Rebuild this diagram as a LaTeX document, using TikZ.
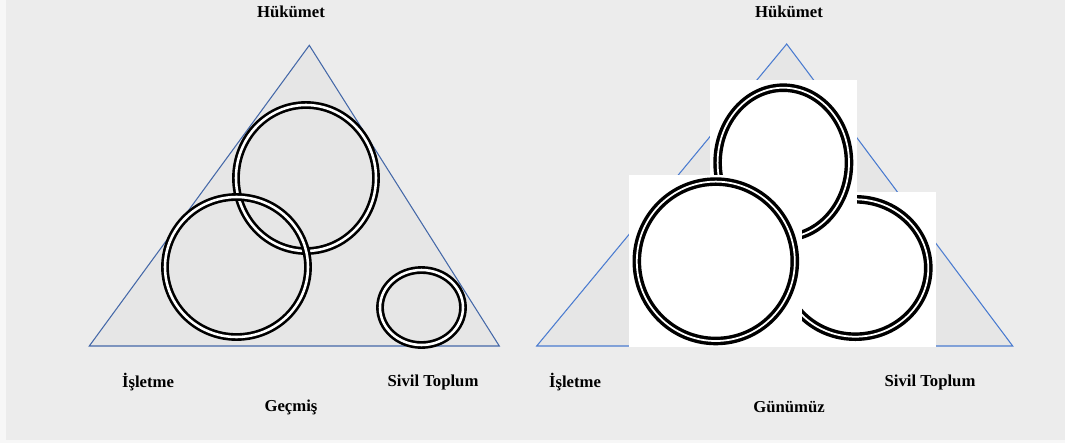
\documentclass[tikz,border=0pt]{standalone}
\usepackage{fontspec}
\setmainfont{Liberation Serif}
\usetikzlibrary{positioning}

\definecolor{bgrey}{HTML}{ECECEC}
\definecolor{tgrey}{HTML}{E6E6E6}
\definecolor{edgeold}{HTML}{4468A8}
\definecolor{edgenew}{HTML}{4A7BD0}

\tikzset{
    lbl/.style={font=\fontsize{9.5}{11}\selectfont\bfseries, inner sep=0pt},
    tri/.style={fill=tgrey, line width=0.6pt},
    ring/.style={draw=black, double=white, line width=1.5pt, double distance=1.45pt},
    thickring/.style={draw=black, double=white, line width=1.95pt, double distance=1pt},
    patch/.style={fill=white, draw=none}
}

\begin{document}
\begin{tikzpicture}[x=0.02cm, y=-0.02cm]
    \useasboundingbox (0,0) rectangle (1065,443);
    \fill[white!60!bgrey] (0,0) rectangle (1065,443);
    \fill[bgrey] (6,0) rectangle (1065,440);

    % past
    \draw[tri, draw=edgeold] (309.3,45.3) -- (499.3,346) -- (89.3,346) -- cycle;
    \draw[ring] (306,178) ellipse [x radius=70, y radius=73];
    \draw[ring] (236.5,267) ellipse [x radius=71.5, y radius=70];
    \draw[ring] (421.5,307.5) ellipse [x radius=41.5, y radius=37.5];

    \node[lbl] (govold) at (291,12) {Hükümet};
    \node[lbl] (busold) at (148,382) {İşletme};
    \node[lbl] (civold) at (433,382) {Sivil Toplum};
    \node[lbl] (pastlbl) at (291,407) {Geçmiş};

    % today
    \draw[tri, draw=edgenew] (786.7,44) -- (1012.7,346) -- (536.7,346) -- cycle;

    \fill[patch] (795,191.7) rectangle (936,347);
    \draw[thickring] (855.3,268) ellipse [x radius=73, y radius=68.7];

    \fill[patch] (710,80) rectangle (856.7,247);
    \draw[thickring] (783.3,162.7) ellipse [x radius=65.7, y radius=75];

    \fill[patch] (629,175) rectangle (801.7,347);
    \draw[thickring] (715.8,261.3) ellipse [x radius=79, y radius=79.7];

    \node[lbl] (govnew) at (789,12) {Hükümet};
    \node[lbl] (busnew) at (575,382) {İşletme};
    \node[lbl] (civnew) at (930,382) {Sivil Toplum};
    \node[lbl] (nowlbl) at (789,407) {Günümüz};

\end{tikzpicture}
\end{document}
